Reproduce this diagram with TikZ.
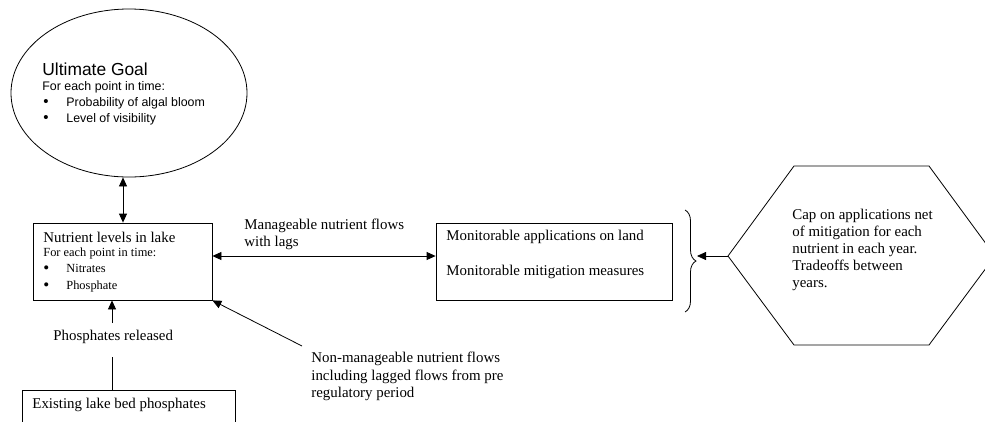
\documentclass[tikz,border=0pt]{standalone}
\usepackage{fontspec}
\setmainfont{Liberation Serif}
\newfontfamily\arialf{Liberation Sans}
\usetikzlibrary{shapes.geometric,arrows.meta,decorations.pathreplacing}
\begin{document}
\begin{tikzpicture}[x=1pt,y=-1pt,
  line width=0.8pt,
  tipone/.style={-{Triangle[length=9pt,width=8pt]}},
  tiptwo/.style={{Triangle[length=9pt,width=8pt]}-{Triangle[length=9pt,width=8pt]}},
  boxn/.style={draw,rectangle,inner sep=0pt},
  txt/.style={anchor=base west,inner sep=0pt,font=\fontsize{14.9}{17}\selectfont},
  small/.style={anchor=base west,inner sep=0pt,font=\fontsize{12.4}{14}\selectfont},
  bul/.style={anchor=base west,inner sep=0pt,font=\fontsize{17}{17}\selectfont},
  asmall/.style={anchor=base west,inner sep=0pt,font=\arialf\fontsize{12.4}{14}\selectfont},
  abul/.style={anchor=base west,inner sep=0pt,font=\arialf\fontsize{15}{15}\selectfont},
  abig/.style={anchor=base west,inner sep=0pt,font=\arialf\fontsize{17.4}{20}\selectfont},
]
\useasboundingbox (0,0) rectangle (985,421);
\clip (0,0) rectangle (985,421);
\fill[white] (0,0) rectangle (985,421);

% Ultimate goal ellipse
\node[draw,ellipse,inner sep=0pt,minimum width=236pt,minimum height=168pt] (goal) at (129,93) {};
\node[abig] (g1) at (42,75) {Ultimate Goal};
\node[asmall] (g2) at (42,90.5) {For each point in time:};
\node[abul] (gb1) at (43,106.5) {\textbullet};
\node[asmall] (g3) at (66,106) {Probability of algal bloom};
\node[abul] (gb2) at (43,122.5) {\textbullet};
\node[asmall] (g4) at (66,122) {Level of visibility};

% Nutrient levels box
\node[boxn,minimum width=179pt,minimum height=77pt] (nut) at (122.5,261.5) {};
\node[txt] (n1) at (43,242) {Nutrient levels in lake};
\node[small] (n2) at (43,256) {For each point in time:};
\node[bul] (nb1) at (43,273) {\textbullet};
\node[small] (n3) at (66,272) {Nitrates};
\node[bul] (nb2) at (43,290) {\textbullet};
\node[small] (n4) at (66,289) {Phosphate};

% Monitorable box
\node[boxn,minimum width=236pt,minimum height=77pt] (mon) at (554,261.5) {};
\node[txt] (m1) at (446,240.5) {Monitorable applications on land};
\node[txt] (m2) at (446,275.5) {Monitorable mitigation measures};

% Existing lake bed box
\node[boxn,minimum width=213pt,minimum height=60pt] (ex) at (128.5,420) {};
\node[txt] (e1) at (32,408) {Existing lake bed phosphates};

% Labels
\node[txt] (l1) at (244,229) {Manageable nutrient flows};
\node[txt] (l2) at (244,246) {with lags};
\node[txt] (pr) at (53,340) {Phosphates released};
\node[txt] (k1) at (311,362) {Non-manageable nutrient flows};
\node[txt] (k2) at (311,380) {including lagged flows from pre};
\node[txt] (k3) at (311,397) {regulatory period};

% Hexagon
\coordinate (hL) at (728,256);
\coordinate (hTL) at (794,166);
\coordinate (hTR) at (929,166);
\coordinate (hR) at (995,256);
\coordinate (hBR) at (929,345);
\coordinate (hBL) at (794,345);
\draw (hL) -- (hTL) -- (hTR) -- (hR) -- (hBR) -- (hBL) -- cycle;
\node[txt] (h1) at (792,219) {Cap on applications net};
\node[txt] (h2) at (792,236) {of mitigation for each};
\node[txt] (h3) at (792,253) {nutrient in each year.};
\node[txt] (h4) at (792,270) {Tradeoffs between};
\node[txt] (h5) at (792,287) {years.};

% Brace
\coordinate (bt) at (685,210);
\coordinate (bb) at (685,312);
\coordinate (btip) at (697,256);
\draw[decorate,decoration={brace,amplitude=11pt}] (bt) -- (bb);

% Connectors
\coordinate (ax) at (123,0);
\coordinate (px) at (112,0);
\coordinate (hy) at (0,256);
\coordinate (ptail) at (112,323);
\coordinate (pbot) at (112,357);
\coordinate (nm) at (302,346);
\draw[tiptwo] (goal.south -| ax) -- (nut.north -| ax);
\draw[tipone] (ptail) -- (nut.south -| px);
\draw (pbot) -- (ex.north -| px);
\draw[tipone] (nm) -- (nut.south east);
\draw[tiptwo] (nut.east |- hy) -- (mon.west |- hy);
\draw[tipone] (hL) -- (btip);
\end{tikzpicture}
\end{document}
